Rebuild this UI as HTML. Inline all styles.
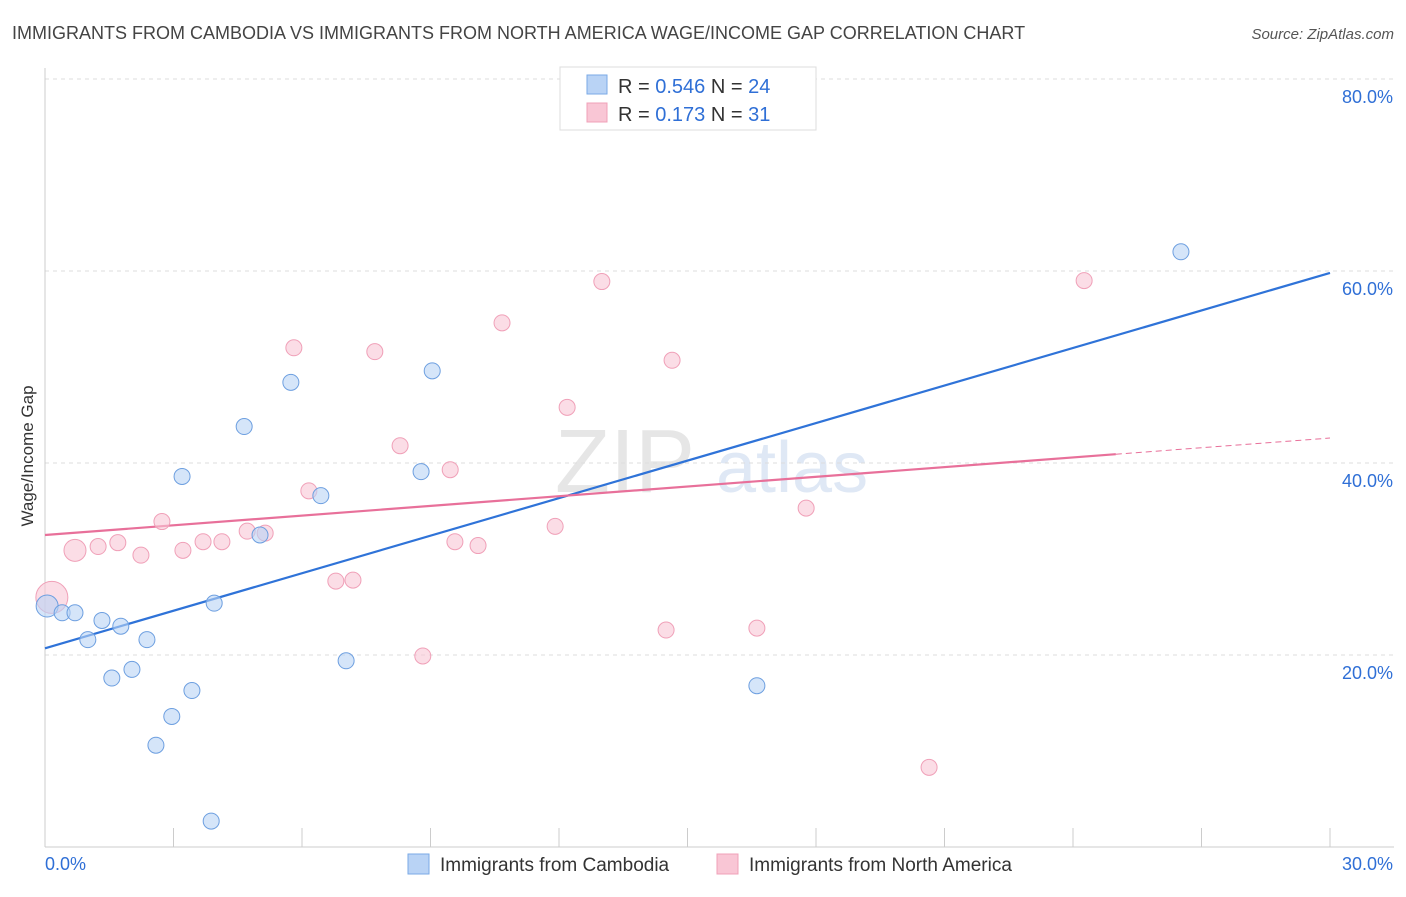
<!DOCTYPE html>
<html><head><meta charset="utf-8"><style>
body{margin:0;background:#fff;font-family:"Liberation Sans",sans-serif;}
svg text{font-family:"Liberation Sans",sans-serif;}
</style></head><body>
<svg id="chart" width="1406" height="892" xmlns="http://www.w3.org/2000/svg">
<text x="12" y="39" font-size="18" fill="#444">IMMIGRANTS FROM CAMBODIA VS IMMIGRANTS FROM NORTH AMERICA WAGE/INCOME GAP CORRELATION CHART</text>
<text x="1394" y="39" font-size="15" fill="#555" text-anchor="end" font-style="italic">Source: ZipAtlas.com</text>
<text x="555" y="492" font-size="90" fill="#e6e6e6" font-family="Liberation Serif">ZIP</text>
<text x="716" y="492" font-size="72" fill="#dfe8f5">atlas</text>
<text transform="translate(33,456) rotate(-90)" font-size="17" fill="#333" text-anchor="middle">Wage/Income Gap</text>
<g id="grid"></g><g id="axes"></g><g id="lines"></g><g id="points"></g>
<g>
<rect x="560" y="67" width="256" height="63" fill="#fff" stroke="#ddd"/>
<rect x="587" y="75" width="20" height="19" fill="#b9d3f5" stroke="#7aaae6"/>
<rect x="587" y="103" width="20" height="19" fill="#f9c6d5" stroke="#f0a0b8"/>
<text x="618" y="93" font-size="20" fill="#333">R = <tspan fill="#2f6fd6">0.546</tspan>   N = <tspan fill="#2f6fd6">24</tspan></text>
<text x="618" y="121" font-size="20" fill="#333">R =  <tspan fill="#2f6fd6">0.173</tspan>   N =  <tspan fill="#2f6fd6">31</tspan></text>
</g>
<g>
<rect x="408" y="854" width="21" height="20" fill="#b9d3f5" stroke="#7aaae6"/>
<text x="440" y="871" font-size="19" fill="#333">Immigrants from Cambodia</text>
<rect x="717" y="854" width="21" height="20" fill="#f9c6d5" stroke="#f0a0b8"/>
<text x="749" y="871" font-size="19" fill="#333">Immigrants from North America</text>
</g>
</svg>
<script>
const blueX=[0.05,0.40,0.70,1.00,1.33,1.56,1.77,2.03,2.38,2.59,2.96,3.20,3.43,3.88,3.95,4.65,5.02,5.74,6.44,7.03,8.78,9.04,16.62,26.52];
const blueY=[25.1,24.4,24.4,21.6,23.6,17.6,23.0,18.5,21.6,10.6,13.6,38.6,16.3,2.7,25.4,43.8,32.5,48.4,36.6,19.4,39.1,49.6,16.8,62.0];
const pinkX=[0.16,0.70,1.24,1.70,2.24,2.73,3.22,3.69,4.13,4.72,5.14,5.81,6.16,6.79,7.19,7.70,8.29,8.82,9.46,9.57,10.11,10.67,11.91,12.19,13.00,14.50,14.64,16.62,17.77,20.64,24.26];
const pinkY=[26.0,30.9,31.3,31.7,30.4,33.9,30.9,31.8,31.8,32.9,32.7,52.0,37.1,27.7,27.8,51.6,41.8,19.9,39.3,31.8,31.4,54.6,33.4,45.8,58.9,22.6,50.7,22.8,35.3,8.3,59.0];
const blueTrend=[20.7,59.8];
const pinkTrend=[32.5,42.6];
const pinkSolidEnd=25.0;
const yTicks=[20,40,60,80];
const xLabels=["0.0%","30.0%"];
const NS="http://www.w3.org/2000/svg";
const sx=v=>45+v/30*1285, sy=v=>847-v*9.6;
function mk(t,a,p){const e=document.createElementNS(NS,t);for(const k in a)e.setAttribute(k,a[k]);document.getElementById(p).appendChild(e);return e;}
yTicks.forEach(t=>{
 const l=mk('line',{x1:45,x2:1394,y1:sy(t),y2:sy(t),stroke:'#ddd','stroke-dasharray':'4,4'},'grid');
 
 
 const tx=mk('text',{x:1393,y:sy(t)+24,'font-size':18,fill:'#2f6fd6','text-anchor':'end'},'grid');tx.textContent=t.toFixed(1)+'%';
 
 
});
const ax=mk('line',{x1:45,x2:45,y1:68,y2:847,stroke:'#ccc'},'axes');


const bx=mk('line',{x1:45,x2:1394,y1:847,y2:847,stroke:'#ccc'},'axes');


for(let i=0;i<=10;i++){const t=mk('line',{x1:sx(i*3),x2:sx(i*3),y1:828,y2:847,stroke:'#ccc'},'axes');
 
 }
const xl0=mk('text',{x:45,y:870,'font-size':18,fill:'#2f6fd6'},'axes');xl0.textContent=xLabels[0];


const xl1=mk('text',{x:1393,y:870,'font-size':18,fill:'#2f6fd6','text-anchor':'end'},'axes');xl1.textContent=xLabels[1];


const bl=mk('line',{x1:sx(0),y1:sy(blueTrend[0]),x2:sx(30),y2:sy(blueTrend[1]),stroke:'#2f73d8','stroke-width':2.2},'lines');


const pm=pinkTrend[0]+(pinkTrend[1]-pinkTrend[0])*pinkSolidEnd/30;
const pl=mk('line',{x1:sx(0),y1:sy(pinkTrend[0]),x2:sx(pinkSolidEnd),y2:sy(pm),stroke:'#e8709a','stroke-width':2.2},'lines');


const pd=mk('line',{x1:sx(pinkSolidEnd),y1:sy(pm),x2:sx(30),y2:sy(pinkTrend[1]),stroke:'#e8709a','stroke-width':1,'stroke-dasharray':'6,4'},'lines');


pinkX.forEach((x,i)=>{const r=i==0?16:(i==1?11:8);
 const c=mk('circle',{cx:sx(x),cy:sy(pinkY[i]),r:r,fill:'#f9c6d5','fill-opacity':0.6,stroke:'#f0a0b8'},'points');
 
 });
blueX.forEach((x,i)=>{const r=i==0?11:8;
 const c=mk('circle',{cx:sx(x),cy:sy(blueY[i]),r:r,fill:'#b9d3f5','fill-opacity':0.6,stroke:'#6d9fe0'},'points');
 
 });
</script>
</body></html>
